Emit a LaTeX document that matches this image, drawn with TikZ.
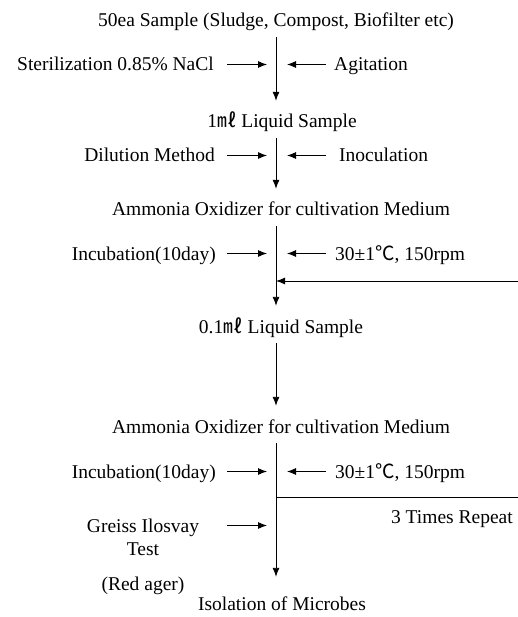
\documentclass[tikz,border=0pt]{standalone}
\usepackage{fontspec}
\setmainfont{Liberation Serif}
\newfontfamily\cjk{Noto Sans CJK KR}
\usetikzlibrary{arrows.meta}

\begin{document}
\begin{tikzpicture}[x=1pt, y=-1pt, font=\fontsize{19.5}{23}\selectfont,
		stage/.style={inner sep=0pt, text height=13pt, text depth=0pt, anchor=base},
		note/.style={inner sep=0pt, text height=13pt, text depth=0pt},
		flow/.style={line width=0.9pt, -{Latex[length=9pt,width=7pt]}, shorten <=10pt, shorten >=14pt},
		side/.style={line width=0.9pt, -{Latex[length=9pt,width=7pt]}}]
	\useasboundingbox (0, 0) rectangle (518, 617);
	\coordinate (spine) at (276, 0);
	\coordinate (lft) at (227, 0);
	\coordinate (rgt) at (326, 0);

	\node[stage] (sample) at (276, 27) {50ea Sample (Sludge, Compost, Biofilter etc)};
	\node[stage] (liq1) at (282, 128) {1{\cjk ㎖} Liquid Sample};
	\node[stage] (medium1) at (281, 216) {Ammonia Oxidizer for cultivation Medium};
	\node[stage] (liq2) at (281, 333) {0.1{\cjk ㎖} Liquid Sample};
	\node[stage] (medium2) at (281, 433) {Ammonia Oxidizer for cultivation Medium};
	\node[stage] (isolate) at (282, 610) {Isolation of Microbes};

		\node[note, anchor=base east] (steril) at (214, 71) {Sterilization 0.85\% NaCl};
		\node[note, anchor=base west] (agit) at (334, 71) {Agitation};
		\node[note, anchor=base east] (dilut) at (215, 162) {Dilution Method};
		\node[note, anchor=base west] (inocul) at (339, 162) {Inoculation};
		\node[note, anchor=base east] (incub1) at (216, 260) {Incubation(10day)};
		\node[note, anchor=base west] (cond1) at (335, 260) {30±1{\cjk ℃}, 150rpm};
		\node[note, anchor=base east] (incub2) at (216, 478) {Incubation(10day)};
		\node[note, anchor=base west] (cond2) at (335, 478) {30±1{\cjk ℃}, 150rpm};
		\node[note, anchor=base] (greiss) at (143, 532) {Greiss Ilosvay};
		\node[note, anchor=base] (test) at (143, 555) {Test};
		\node[note, anchor=base] (redager) at (143, 590) {(Red ager)};
		\node[note, anchor=base east] (repeat) at (513, 523) {3 Times Repeat};

	\draw[flow] (sample.south -| spine) -- (liq1.north -| spine);
	\draw[flow] (liq1.south -| spine) -- (medium1.north -| spine);
	\draw[flow] (medium1.south -| spine) -- (liq2.north -| spine);
	\draw[flow] (liq2.south -| spine) -- (medium2.north -| spine);
	\draw[flow, shorten >=20pt] (medium2.south -| spine) -- (isolate.north -| spine);

	\foreach \lbl in {steril, dilut, incub1, incub2, greiss}
		\draw[side, shorten >=9pt] (\lbl.east -| lft) -- (\lbl.east -| spine);
	\foreach \lbl in {agit, inocul, cond1, cond2}
		\draw[side, shorten >=11pt] (\lbl.west -| rgt) -- (\lbl.west -| spine);

	\coordinate (loopin) at (518, 281);
	\coordinate (loopout) at (518, 497);
	\draw[side] (loopin) -- (loopin -| spine);
	\draw[line width=0.9pt] (loopout -| spine) -- (loopout);
\end{tikzpicture}
\end{document}
